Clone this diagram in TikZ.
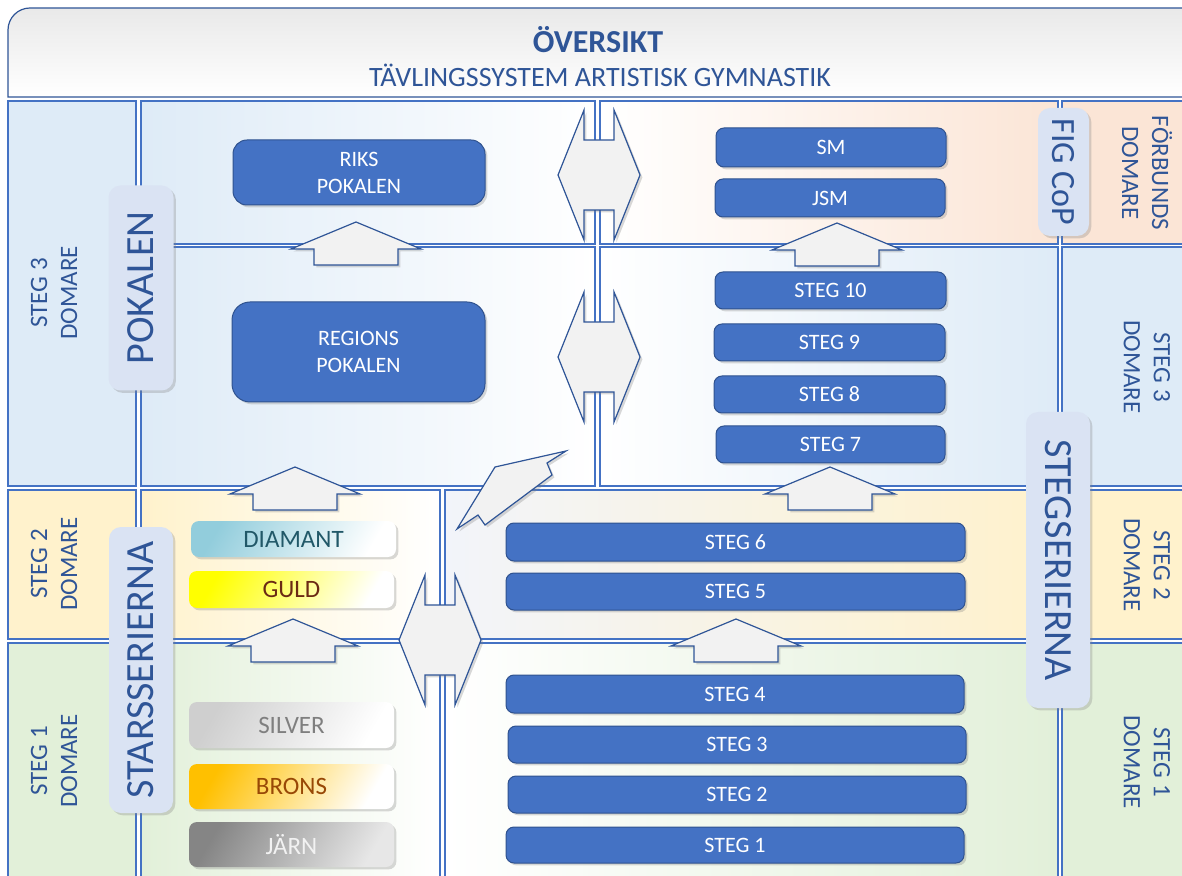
\documentclass[tikz,border=0pt]{standalone}
\usepackage{fontspec}
\setmainfont{Carlito}
\usepackage{tikz}
\usetikzlibrary{positioning}
\usetikzlibrary{shadows}

\definecolor{gridblue}{HTML}{4472C4}
\definecolor{txtblue}{HTML}{2F5597}
\definecolor{boxblue}{HTML}{4472C4}
\definecolor{boxedge}{HTML}{2F528F}
\definecolor{pill}{HTML}{DAE3F3}
\definecolor{lblue}{HTML}{DEEBF7}
\definecolor{lpeach}{HTML}{FBE5D6}
\definecolor{lcream}{HTML}{FFF2CC}
\definecolor{lgreen}{HTML}{E2F0D9}
\definecolor{lbluegrey}{HTML}{F2F4FA}
\definecolor{lgrey}{HTML}{F2F2F2}
\definecolor{ttlgrey}{HTML}{E9E9E9}
\definecolor{diamant}{HTML}{92CDDC}
\definecolor{diatext}{HTML}{215868}
\definecolor{guld}{HTML}{FFFF00}
\definecolor{guldtext}{HTML}{6B2A14}
\definecolor{silver}{HTML}{CFCFCF}
\definecolor{silvtext}{HTML}{7F7F7F}
\definecolor{brons}{HTML}{FFC000}
\definecolor{bronstext}{HTML}{984806}
\definecolor{jarn}{HTML}{858585}
\definecolor{jarntext}{HTML}{F2F2F2}

\tikzset{
  dshadow/.style={drop shadow={shadow xshift=1.2pt, shadow yshift=-1.2pt, opacity=0.3}},
  cell/.style={draw=gridblue, line width=0.6pt},
  stegbox/.style={rectangle, rounded corners=4pt, fill=boxblue, draw=boxedge, line width=0.5pt, text=white, align=center, inner sep=0pt, font=\fontsize{11}{13.5}\selectfont, dshadow},
  medal/.style={rectangle, rounded corners=4pt, inner sep=0pt, minimum width=102.5pt, font=\fontsize{12.5}{14}\selectfont, dshadow},
  pillbox/.style={rectangle, rounded corners=6pt, fill=pill, inner sep=0pt, text=txtblue, font=\fontsize{20}{24}\selectfont, dshadow},
  domare/.style={text=txtblue, align=center, inner sep=0pt, font=\fontsize{12.5}{15}\selectfont},
  blockarrow/.style={fill=lgrey, draw=txtblue, line width=0.6pt, line join=miter, dshadow},
  uparr/.pic={\draw[blockarrow] (0,0) -- (65,27) -- (42,27) -- (42,43) -- (-42,43) -- (-42,27) -- (-65,27) -- cycle;},
  duoarr/.pic={\draw[blockarrow] (-41,0) -- (-15,-65) -- (-15,-35) -- (15,-35) -- (15,-65) -- (41,0) -- (15,65) -- (15,35) -- (-15,35) -- (-15,65) -- cycle;}
}

\begin{document}
\begin{tikzpicture}[x=0.5pt, y=-0.5pt]
				\useasboundingbox (0,0) rectangle (1182,876);
				\clip (0,0) rectangle (1182,876);
				
				\draw[draw=txtblue, line width=0.6pt, top color=ttlgrey, bottom color=white] (1200,97) -- (8,97) -- (8,30) arc[start angle=180, end angle=90, radius=11pt] -- (1200,8) -- cycle;
				\node[text=txtblue, font=\bfseries\fontsize{16}{19}\selectfont] (T) at (598,40) {ÖVERSIKT};
				\node[text=txtblue, font=\fontsize{14}{17}\selectfont] (U) at (600,75) {TÄVLINGSSYSTEM ARTISTISK GYMNASTIK};
				
				\draw[cell, fill=lblue] (8,101) rectangle (136,486);
				\draw[cell, fill=lcream] (8,490) rectangle (136,639);
				\draw[cell, fill=lgreen] (8,643) rectangle (136,884);
				\draw[cell, left color=lblue, right color=white] (141,101) rectangle (595,244);
				\draw[cell, left color=white, right color=lpeach] (600,101) rectangle (1058,244);
				\draw[cell, fill=lpeach] (1062,101) rectangle (1190,244);
				\draw[cell, left color=lblue, right color=white] (141,247) rectangle (595,486);
				\draw[cell, left color=white, right color=lblue] (600,247) rectangle (1058,486);
				\draw[cell, fill=lblue] (1062,247) rectangle (1190,486);
				\draw[cell, left color=lcream, right color=white] (141,490) rectangle (440,639);
				\draw[cell, left color=lbluegrey, right color=lcream] (445,490) rectangle (1058,639);
				\draw[cell, fill=lcream] (1062,490) rectangle (1190,639);
				\draw[cell, left color=lgreen, right color=white] (141,643) rectangle (440,884);
				\draw[cell, left color=white, right color=lgreen] (445,643) rectangle (1058,884);
				\draw[cell, fill=lgreen] (1062,643) rectangle (1190,884);
				
				\node[domare, rotate=90] (L3) at (54,293) {STEG 3\\DOMARE};
				\node[domare, rotate=90] (L2) at (54,564) {STEG 2\\DOMARE};
				\node[domare, rotate=90] (L1) at (54,761) {STEG 1\\DOMARE};
				\node[domare, rotate=-90] (R4) at (1147,173) {FÖRBUNDS\\DOMARE};
				\node[domare, rotate=-90] (R3) at (1147,367) {STEG 3\\DOMARE};
				\node[domare, rotate=-90] (R2) at (1147,565) {STEG 2\\DOMARE};
				\node[domare, rotate=-90] (R1) at (1147,762) {STEG 1\\DOMARE};
				
				\pic at (356,222) {uparr};
				\pic at (837,223) {uparr};
				\pic at (295,467) {uparr};
				\pic at (830,467) {uparr};
				\pic at (293,619) {uparr};
				\pic at (736,619) {uparr};
				\pic at (599,175) {duoarr};
				\pic at (599,357) {duoarr};
				\pic at (440,640) {duoarr};
				\draw[blockarrow] (457,529) -- (495,467) -- (566,451) -- (547,463) -- (552,475) -- (485,525) -- (478,515) -- cycle;
				
				\node[pillbox, minimum width=32.5pt, minimum height=102.5pt] (PO) at (141,288) {\rotatebox{90}{POKALEN}};
				\node[pillbox, minimum width=32pt, minimum height=143pt] (ST) at (141,670) {\rotatebox{90}{STARSSERIERNA}};
				\node[pillbox, minimum width=32pt, minimum height=148pt] (SG) at (1058,560) {\rotatebox{-90}{STEGSERIERNA}};
				\node[pillbox, minimum width=25.5pt, minimum height=64pt, font=\fontsize{17}{20}\selectfont] (FIG) at (1063.5,172) {\rotatebox{-90}{FIG CoP}};
				
				\node[stegbox, rounded corners=7pt, minimum width=126pt, minimum height=32.5pt] (RP) at (359,172.5) {RIKS\\POKALEN};
				\node[stegbox, rounded corners=9pt, minimum width=126.5pt, minimum height=50pt] (GP) at (358.5,352) {REGIONS\\POKALEN};
				\node[stegbox, minimum width=115pt, minimum height=19.5pt] (SM) at (831,147.5) {SM};
				\node[stegbox, minimum width=115pt, minimum height=19pt] (JSM) at (830,198) {JSM};
				\node[stegbox, minimum width=115.5pt, minimum height=18.5pt] (S10) at (830.5,290.5) {STEG 10};
				\node[stegbox, minimum width=115.5pt, minimum height=18.5pt] (S9) at (829.5,342.5) {STEG 9};
				\node[stegbox, minimum width=115.5pt, minimum height=18.5pt] (S8) at (829.5,394.5) {STEG 8};
				\node[stegbox, minimum width=114.5pt, minimum height=18.5pt] (S7) at (830.5,444.5) {STEG 7};
				\node[stegbox, minimum width=229.5pt, minimum height=19pt] (S6) at (735.5,542) {STEG 6};
				\node[stegbox, minimum width=229.5pt, minimum height=18.5pt] (S5) at (735.5,591.5) {STEG 5};
				\node[stegbox, minimum width=229pt, minimum height=19pt] (S4) at (735,694) {STEG 4};
				\node[stegbox, minimum width=229pt, minimum height=18.5pt] (S3) at (737,744.5) {STEG 3};
				\node[stegbox, minimum width=229pt, minimum height=18.5pt] (S2) at (737,794.5) {STEG 2};
				\node[stegbox, minimum width=229pt, minimum height=18pt] (S1) at (735,845) {STEG 1};
				
				\node[medal, minimum height=18pt, left color=diamant, right color=white, shading angle=60, text=diatext] (DI) at (293.5,539) {DIAMANT};
				\node[medal, minimum height=18.5pt, left color=guld, right color=white, shading angle=60, text=guldtext] (GU) at (291.5,589.5) {GULD};
				\node[medal, minimum height=23pt, left color=silver, right color=white, shading angle=60, text=silvtext] (SI) at (291.5,725) {SILVER};
				\node[medal, minimum height=22.5pt, left color=brons, right color=white, shading angle=60, text=bronstext] (BR) at (291.5,786.5) {BRONS};
				\node[medal, minimum height=22.5pt, left color=jarn, right color=jarn!20, shading angle=60, text=jarntext] (JA) at (291.5,844.5) {JÄRN};
			\end{tikzpicture}
\end{document}
